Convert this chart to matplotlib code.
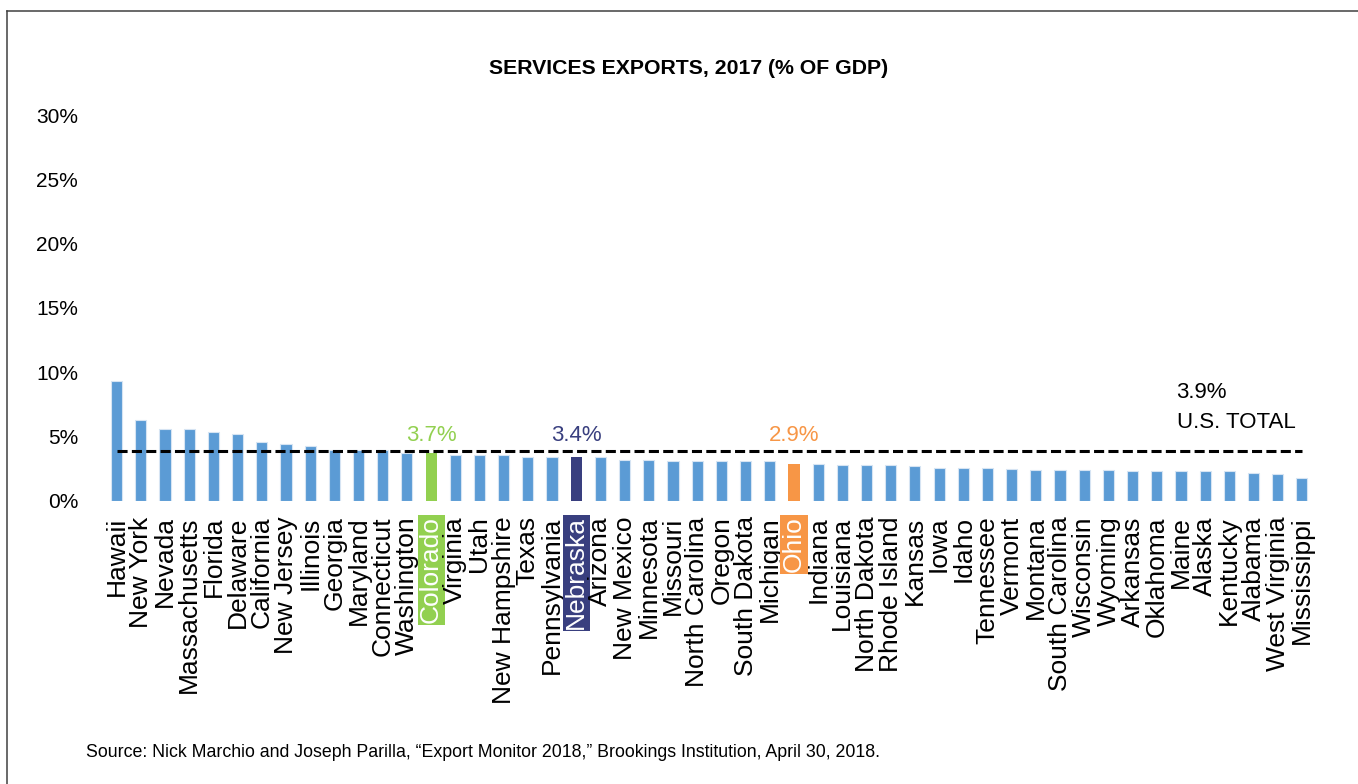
import matplotlib
matplotlib.use("Agg")
import matplotlib.pyplot as plt
from matplotlib.lines import Line2D
from matplotlib.ticker import FuncFormatter

states = ["Hawaii", "New York", "Nevada", "Massachusetts", "Florida", "Delaware",
          "California", "New Jersey", "Illinois", "Georgia", "Maryland", "Connecticut",
          "Washington", "Colorado", "Virginia", "Utah", "New Hampshire", "Texas",
          "Pennsylvania", "Nebraska", "Arizona", "New Mexico", "Minnesota", "Missouri",
          "North Carolina", "Oregon", "South Dakota", "Michigan", "Ohio", "Indiana",
          "Louisiana", "North Dakota", "Rhode Island", "Kansas", "Iowa", "Idaho",
          "Tennessee", "Vermont", "Montana", "South Carolina", "Wisconsin", "Wyoming",
          "Arkansas", "Oklahoma", "Maine", "Alaska", "Kentucky", "Alabama",
          "West Virginia", "Mississippi"]
values = [9.3, 6.3, 5.6, 5.6, 5.4, 5.2,
          4.6, 4.4, 4.3, 4.0, 4.0, 4.0,
          3.7, 3.7, 3.6, 3.6, 3.6, 3.4,
          3.4, 3.4, 3.4, 3.2, 3.2, 3.1,
          3.1, 3.1, 3.1, 3.1, 2.9, 2.9,
          2.8, 2.8, 2.8, 2.7, 2.6, 2.6,
          2.6, 2.5, 2.4, 2.4, 2.4, 2.4,
          2.3, 2.3, 2.3, 2.3, 2.3, 2.2,
          2.1, 1.8]
us_total = 3.9
highlights = {"Colorado": ("#92D050", "3.7%"),
              "Nebraska": ("#393F7F", "3.4%"),
              "Ohio": ("#F79646", "2.9%")}
yticks = [0, 5, 10, 15, 20, 25, 30]

BLUE = "#5B9BD5"
plt.rcParams["font.family"] = ["Liberation Sans", "DejaVu Sans"]

fig = plt.figure(figsize=(13.58, 7.84), dpi=100)
ax = fig.add_axes([0.077, 0.361, 0.8906, 0.4923])

x = list(range(len(states)))
colors = [highlights[s][0] if s in highlights else BLUE for s in states]
edges = ["none" if s in highlights else "#D6E4F3" for s in states]
ax.bar(x, values, width=0.46, color=colors, edgecolor=edges, linewidth=0.8, zorder=2)

ax.plot([x[0], x[-1]], [us_total, us_total], color="black", lw=2.2,
        dashes=(3.3, 1.4), zorder=3)

for s, (c, lab) in highlights.items():
    i = states.index(s)
    ax.text(i, 5.1, lab, color=c, fontsize=16, ha="center", va="center", zorder=4)

ax.text(43.82, 8.47, "3.9%", fontsize=16, ha="left", va="center")
ax.text(43.82, 6.12, "U.S. TOTAL", fontsize=16, ha="left", va="center")

ax.set_xlim(-0.5, len(states) - 0.5)
ax.set_ylim(0, 30)
ax.set_yticks(yticks)
ax.yaxis.set_major_formatter(FuncFormatter(lambda v, p: f"{v:.0f}%"))
ax.set_xticks(x)
ax.set_xticklabels(states, rotation=90, fontsize=19, va="top", ha="center")
ax.tick_params(axis="x", length=0, pad=11)
ax.tick_params(axis="y", length=0, pad=19, labelsize=15)
for lbl in ax.get_xticklabels():
    t = lbl.get_text()
    if t in highlights:
        lbl.set_color("white")
        lbl.set_bbox(dict(facecolor=highlights[t][0], edgecolor="none", pad=1.2))
for sp in ax.spines.values():
    sp.set_visible(False)

fig.text(0.507, 0.913, "SERVICES EXPORTS, 2017 (% OF GDP)", fontsize=15.3,
         fontweight="bold", ha="center", va="center")
fig.text(0.0633, 0.040, "Source: Nick Marchio and Joseph Parilla, \u201cExport Monitor 2018,\u201d "
         "Brookings Institution, April 30, 2018.", fontsize=12.8, ha="left", va="center")

# partial frame (left and top)
fig.add_artist(Line2D([7 / 1358, 7 / 1358], [0, 1 - 11 / 784], transform=fig.transFigure,
                      color="#404040", lw=1.1))
fig.add_artist(Line2D([7 / 1358, 1], [1 - 11 / 784, 1 - 11 / 784], transform=fig.transFigure,
                      color="#404040", lw=1.1))

fig.savefig("out.png", dpi=100)
